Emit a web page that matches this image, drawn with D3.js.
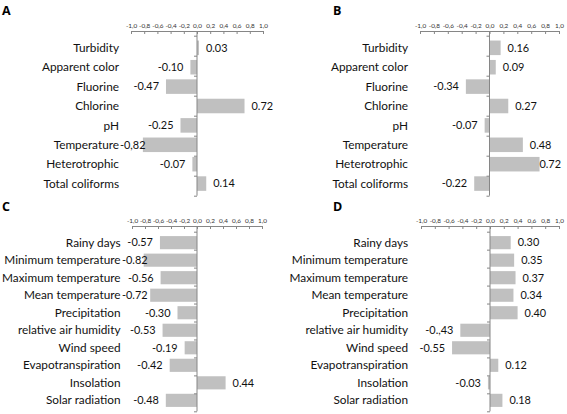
<!DOCTYPE html>
<html>
  <head>
    <meta charset="UTF-8">
    <title>Correlation panels</title>
    <style>
      body { margin: 0; background: #fff; }
      svg { display: block; }
      .title { font: bold 12.5px "Open Sans", sans-serif; fill: #000; }
      .cat { font-family: Lato, sans-serif; font-size: 11.8px; fill: #111; }
      .val { font-family: Lato, sans-serif; font-size: 10.9px; fill: #111; }
      .bar { fill: #c0c0c0; }
      .xaxis text { font-family: Lato, sans-serif; font-size: 6.4px; fill: #333; }
      .xaxis line, .xaxis path, .yaxis line, .yaxis path { stroke: #868686; }
    </style>
    <script src="https://d3js.org/d3.v7.min.js"></script>
  </head>
  <body>
    <script>
      // ---- data ----
      var waterCats = ["Turbidity", "Apparent color", "Fluorine", "Chlorine",
                       "pH", "Temperature", "Heterotrophic", "Total coliforms"];
      var climateCats = ["Rainy days", "Minimum temperature", "Maximum temperature",
                         "Mean temperature", "Precipitation", "relative air humidity",
                         "Wind speed", "Evapotranspiration", "Insolation", "Solar radiation"];

      var valuesA = [0.03, -0.10, -0.47, 0.72, -0.25, -0.82, -0.07, 0.14];
      var labelsA = ["0.03", "-0.10", "-0.47", "0.72", "-0.25", "-0,82", "-0.07", "0.14"];

      var valuesB = [0.16, 0.09, -0.34, 0.27, -0.07, 0.48, 0.72, -0.22];
      var labelsB = ["0.16", "0.09", "-0.34", "0.27", "-0.07", "0.48", "0.72", "-0.22"];

      var valuesC = [-0.57, -0.82, -0.56, -0.72, -0.30, -0.53, -0.19, -0.42, 0.44, -0.48];
      var labelsC = ["-0.57", "-0.82", "-0.56", "-0.72", "-0.30", "-0.53", "-0.19", "-0.42", "0.44", "-0.48"];

      var valuesD = [0.30, 0.35, 0.37, 0.34, 0.40, -0.43, -0.55, 0.12, -0.03, 0.18];
      var labelsD = ["0.30", "0.35", "0.37", "0.34", "0.40", "-0.,43", "-0.55", "0.12", "-0.03", "0.18"];

      var tickVals = [-1, -0.8, -0.6, -0.4, -0.2, 0, 0.2, 0.4, 0.6, 0.8, 1];

      // comma decimals on the value axis
      var fmt = d3.formatLocale({decimal: ",", thousands: ".", grouping: [3],
                                 currency: ["", ""], minus: "-"}).format(".1f");

      var svg = d3.select("body").append("svg")
          .attr("width", 567)
          .attr("height", 414);

      var panels = [
        {title: "A", cats: waterCats, values: valuesA, labels: labelsA,
         tx: 2, ty: 15, x0: 131, x1: 263, labelX: 119, clampL: 120, clampR: 285,
         axisY: 31, y0: 35.7, y1: 195.7},
        {title: "B", cats: waterCats, values: valuesB, labels: labelsB,
         tx: 333, ty: 15, x0: 420, x1: 559, labelX: 408, clampL: 410, clampR: 561,
         axisY: 31, y0: 35.7, y1: 195.7},
        {title: "C", cats: climateCats, values: valuesC, labels: labelsC,
         tx: 2, ty: 211, x0: 132, x1: 262, labelX: 120.5, clampL: 122, clampR: 285,
         axisY: 226, y0: 231.7, y1: 411.3},
        {title: "D", cats: climateCats, values: valuesD, labels: labelsD,
         tx: 333, ty: 211, x0: 421, x1: 559, labelX: 408, clampL: 410, clampR: 561,
         axisY: 226, y0: 231.7, y1: 411.3}
      ];

      panels.forEach(drawPanel);

      function drawPanel(p) {
          var g = svg.append("g");

          var x = d3.scaleLinear().domain([-1, 1]).range([p.x0, p.x1]);
          var y = d3.scaleBand().domain(p.cats).range([p.y0, p.y1]).padding(0.25);
          // boundaries between categories, for the tick marks on the zero line
          var yb = d3.scaleLinear().domain([0, p.cats.length]).range([p.y0, p.y1]);

          g.append("text")
              .attr("class", "title")
              .attr("x", p.tx)
              .attr("y", p.ty)
              .text(p.title);

          // Value axis on top, ticks pointing down
          g.append("g")
              .attr("class", "xaxis")
              .attr("transform", "translate(0," + p.axisY + ")")
              .call(d3.axisTop(x)
                  .tickValues(tickVals)
                  .tickFormat(fmt)
                  .tickSizeInner(-3)
                  .tickSizeOuter(0)
                  .tickPadding(3));

          // Bars
          var rows = p.cats.map(function(c, i) {
              return {cat: c, value: p.values[i], label: p.labels[i]};
          });

          g.selectAll(".bar")
              .data(rows)
              .enter().append("rect")
              .attr("class", "bar")
              .attr("x", function(d) { return Math.min(x(0), x(d.value)); })
              .attr("y", function(d) { return y(d.cat); })
              .attr("width", function(d) { return Math.abs(x(d.value) - x(0)); })
              .attr("height", y.bandwidth());

          // Category axis at zero
          g.append("g")
              .attr("class", "yaxis")
              .attr("transform", "translate(" + x(0) + ",0)")
              .call(d3.axisLeft(yb)
                  .tickValues(d3.range(p.cats.length + 1))
                  .tickFormat("")
                  .tickSizeInner(3)
                  .tickSizeOuter(0));
          g.select(".yaxis path").attr("d", "M0," + p.axisY + "V" + p.y1);

          // Category labels
          g.selectAll(".cat")
              .data(rows)
              .enter().append("text")
              .attr("class", "cat")
              .attr("x", p.labelX)
              .attr("y", function(d) { return y(d.cat) + y.bandwidth() / 2; })
              .attr("dy", "0.35em")
              .attr("text-anchor", "end")
              .text(function(d) { return d.cat; });

          // Value labels, outside end of bars, kept inside the plot area
          g.selectAll(".val")
              .data(rows)
              .enter().append("text")
              .attr("class", "val")
              .attr("y", function(d) { return y(d.cat) + y.bandwidth() / 2; })
              .attr("dy", "0.35em")
              .text(function(d) { return d.label; })
              .each(function(d) {
                  var w = this.getComputedTextLength();
                  var px;
                  if (d.value >= 0) {
                      px = Math.min(p.clampR - w, x(d.value) + 7);
                  } else {
                      px = Math.max(p.clampL, x(d.value) - 7 - w);
                  }
                  d3.select(this).attr("x", px);
              });
      }
    </script>
  </body>
</html>
